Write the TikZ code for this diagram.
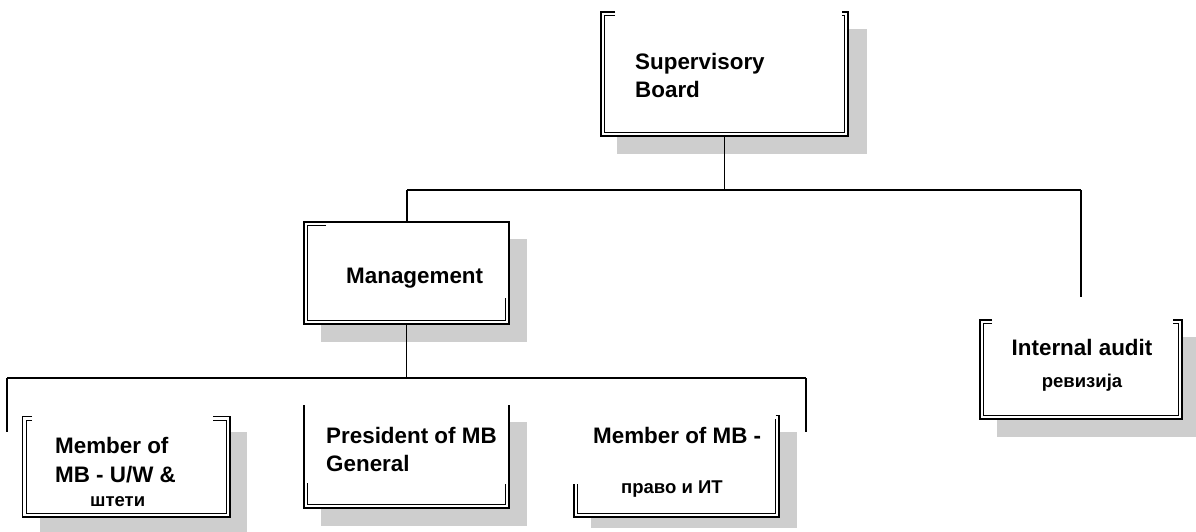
\documentclass[tikz,border=0pt]{standalone}
\usepackage{fontspec}
\setmainfont{Liberation Sans}
\definecolor{shadowgray}{RGB}{206,206,206}
\begin{document}
\begin{tikzpicture}[x=1pt,y=-1pt,
  shadowbox/.style={fill=shadowgray,draw=none},
  boxarea/.style={fill=white,draw=none,inner sep=0,anchor=north west},
  outerline/.style={line width=1.4pt,line join=miter},
  innerline/.style={line width=0.9pt,line join=miter},
  conn/.style={line width=1.3pt},
  biglbl/.style={anchor=base west,inner sep=0,font=\fontsize{22.4}{28}\selectfont\bfseries},
  biglblc/.style={anchor=base,inner sep=0,font=\fontsize{22.4}{28}\selectfont\bfseries},
  smalllbl/.style={anchor=base west,inner sep=0,font=\fontsize{18.5}{22}\selectfont\bfseries},
  smalllblc/.style={anchor=base,inner sep=0,font=\fontsize{18.5}{22}\selectfont\bfseries}]
\useasboundingbox (0,0) rectangle (1196,532);
% shadows
\fill[shadowbox] (617,29) rectangle (867,154);
\fill[shadowbox] (321,239) rectangle (527,342);
\fill[shadowbox] (997,337) rectangle (1196,437);
\fill[shadowbox] (40,432) rectangle (247,532);
\fill[shadowbox] (321,422) rectangle (527,526);
\fill[shadowbox] (591,432) rectangle (797,528);
% box areas
\node[boxarea,minimum width=247pt,minimum height=124pt] (S) at (601,12) {};
\node[boxarea,minimum width=205pt,minimum height=102pt] (M) at (304,222) {};
\node[boxarea,minimum width=202pt,minimum height=99pt] (I) at (980,320) {};
\node[boxarea,minimum width=207.5pt,minimum height=100.5pt] (U) at (22.5,416.5) {};
\node[boxarea,minimum width=205pt,minimum height=103pt] (P) at (304,405) {};
\node[boxarea,minimum width=205pt,minimum height=102pt] (T) at (574,415) {};
% frames
\draw[outerline] (615,12) -- (601,12) -- (601,136) -- (848,136) -- (848,12) -- (842,12);
\draw[innerline] (615,15.5) -- (604.5,15.5) -- (604.5,132.5) -- (844.5,132.5) -- (844.5,15.5) -- (842,15.5);
\draw[outerline] (304,222) rectangle (509,324);
\draw[innerline] (326,225.5) -- (307.5,225.5) -- (307.5,320.5) -- (505.5,320.5) -- (505.5,298);
\draw[outerline] (992,320) -- (980,320) -- (980,419) -- (1182,419) -- (1182,320) -- (1173,320);
\draw[innerline] (992,323.5) -- (983.5,323.5) -- (983.5,415.5) -- (1178.5,415.5) -- (1178.5,323.5) -- (1173,323.5);
\draw[outerline] (32,416.5) -- (22.5,416.5) -- (22.5,517) -- (230,517) -- (230,416.5) -- (213,416.5);
\draw[innerline] (32,420) -- (26,420) -- (26,513.5) -- (226.5,513.5) -- (226.5,420) -- (213,420);
\draw[outerline] (304,405) -- (304,508) -- (509,508) -- (509,405);
\draw[innerline] (307.5,483) -- (307.5,504.5) -- (505.5,504.5) -- (505.5,484);
\draw[outerline] (775.5,415.5) -- (779,415.5) -- (779,517) -- (574,517) -- (574,484);
\draw[innerline] (775.5,419) -- (775.5,513.5) -- (577.5,513.5) -- (577.5,484);
% connectors
\coordinate (b1L) at (407,190);
\coordinate (b1R) at (1081,190);
\coordinate (auditEnd) at (1081,297);
\coordinate (b2L) at (7,378);
\coordinate (b2R) at (806,378);
\coordinate (e1) at (7,432);
\coordinate (e2) at (806,432);
\draw[conn] (S.south) -- (S.south |- b1L);
\draw[conn] (b1L) -- (b1R);
\draw[conn] (b1L) -- (b1L |- M.north);
\draw[conn] (b1R) -- (auditEnd);
\draw[conn] (M.south) -- (M.south |- b2L);
\draw[conn] (b2L) -- (b2R);
\draw[conn] (b2L) -- (e1);
\draw[conn] (b2R) -- (e2);
% labels
\node[biglbl] (tS1) at (635,70) {Supervisory};
\node[biglbl] (tS2) at (635,98) {Board};
\node[biglbl] (tM) at (346,283) {Management};
\node[biglblc] (tI1) at (1082,355) {Internal audit};
\node[smalllblc] (tI2) at (1082,387) {ревизија};
\node[biglbl] (tU1) at (55,453) {Member of};
\node[biglbl] (tU2) at (55,482) {MB - U/W \&};
\node[smalllbl] (tU3) at (90,506) {штети};
\node[biglbl] (tP1) at (326,443) {President of MB};
\node[biglbl] (tP2) at (326,471) {General};
\node[biglbl] (tT1) at (593,443) {Member of MB -};
\node[smalllbl] (tT2) at (621,493) {право и ИТ};
\end{tikzpicture}
\end{document}
